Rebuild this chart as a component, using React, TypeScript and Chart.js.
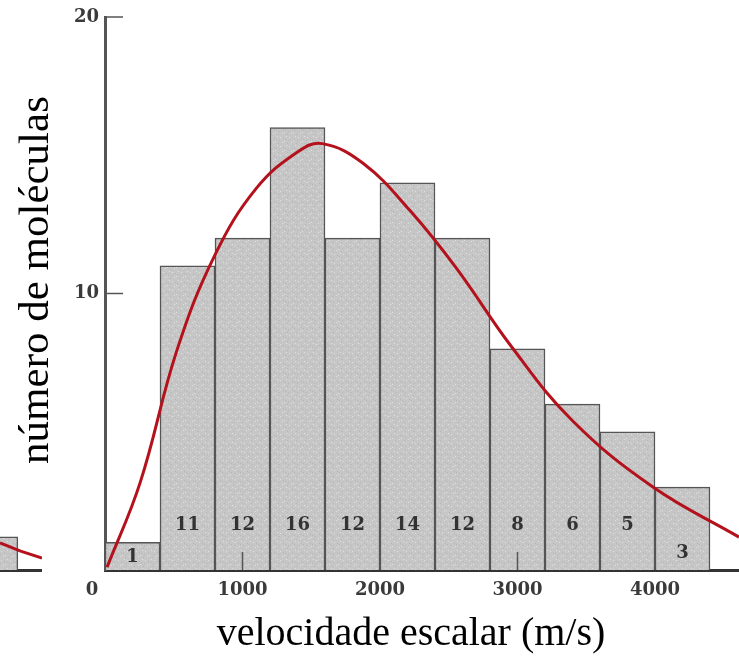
import React, { useEffect, useRef } from "react";
import { Chart, registerables } from "chart.js";

Chart.register(...registerables);

// ---- data ----
const binCenters = [200, 600, 1000, 1400, 1800, 2200, 2600, 3000, 3400, 3800, 4200];
const binCounts = [1, 11, 12, 16, 12, 14, 12, 8, 6, 5, 3];

const curveSpeeds = [15, 255, 524, 800, 1100, 1400, 1580, 1879, 2218, 2558, 2950, 3400, 3985, 4611];
const curveValues = [0.1, 3.15, 7.96, 11.4, 13.8, 15.12, 15.42, 14.7, 13.0, 10.9, 8.12, 5.4, 3.0, 1.19];

const xTickValues = [1000, 2000, 3000, 4000];
const yTickValues = [10, 20];

// fragment of the neighbouring chart, cut off at the left edge
const fragBinCenters = [4200];
const fragBinCounts = [1.2];
const fragCurveSpeeds = [4270, 4420, 4575];
const fragCurveValues = [0.98, 0.68, 0.43];

const xTitle = "velocidade escalar (m/s)";
const yTitle = "número de moléculas";

const TICK_FONT = { family: "'DejaVu Serif', serif", size: 18, weight: "bold" as const };
const TICK_COLOR = "#3a3a3a";
const BAR_BORDER = "#555555";
const CURVE_COLOR = "#b3121c";

function makePattern(): CanvasPattern | string {
  const c = document.createElement("canvas");
  c.width = 9;
  c.height = 9;
  const g = c.getContext("2d");
  if (!g) return "#c6c6c6";
  g.fillStyle = "#c6c6c6";
  g.fillRect(0, 0, 9, 9);
  g.fillStyle = "#e0e0e0";
  [[1, 2], [5, 6], [7, 1], [3, 7]].forEach(([px, py]) => g.fillRect(px, py, 1, 1));
  g.fillStyle = "#b6b6b6";
  [[4, 3], [0, 5], [8, 8], [6, 4]].forEach(([px, py]) => g.fillRect(px, py, 1, 1));
  return g.createPattern(c, "repeat") || "#c6c6c6";
}

const decorPlugin = {
  id: "decor",
  afterDatasetsDraw(chart: any) {
    const { ctx } = chart;
    const x = chart.scales.x;
    const y = chart.scales.y;
    ctx.save();
    // inward tick marks
    ctx.strokeStyle = "#555";
    ctx.lineWidth = 1.5;
    yTickValues.forEach((v) => {
      const py = y.getPixelForValue(v);
      ctx.beginPath();
      ctx.moveTo(x.left, py);
      ctx.lineTo(x.left + 18, py);
      ctx.stroke();
    });
    xTickValues.forEach((v) => {
      const px = x.getPixelForValue(v);
      ctx.beginPath();
      ctx.moveTo(px, y.bottom);
      ctx.lineTo(px, y.bottom - 18);
      ctx.stroke();
    });
    // bar count labels
    const meta = chart.getDatasetMeta(1);
    ctx.font = `bold 18px 'DejaVu Serif', serif`;
    ctx.fillStyle = "#333";
    ctx.textAlign = "center";
    ctx.textBaseline = "middle";
    binCounts.forEach((c, i) => {
      const el = meta.data[i];
      if (!el) return;
      const level = c <= 1 ? 0.45 : c <= 3 ? 0.62 : 1.6;
      ctx.fillText(String(c), el.x, y.getPixelForValue(level));
    });
    ctx.restore();
  },
  afterDraw(chart: any) {
    const { ctx } = chart;
    const x = chart.scales.x;
    ctx.save();
    // origin label
    ctx.font = `bold 18px 'DejaVu Serif', serif`;
    ctx.fillStyle = TICK_COLOR;
    ctx.textAlign = "center";
    ctx.textBaseline = "middle";
    ctx.fillText("0", x.getPixelForValue(0) - 13, x.top + 20);
    // axis titles
    ctx.fillStyle = "#000";
    ctx.font = `40px 'Liberation Serif', serif`;
    ctx.textBaseline = "alphabetic";
    ctx.fillText(xTitle, 411, 645);
    ctx.translate(48, 280);
    ctx.rotate(-Math.PI / 2);
    ctx.font = `43px 'Liberation Serif', serif`;
    ctx.fillText(yTitle, 0, 0);
    ctx.restore();
  },
};

export default function App() {
  const mainRef = useRef<HTMLCanvasElement | null>(null);
  const fragRef = useRef<HTMLCanvasElement | null>(null);

  useEffect(() => {
    if (!mainRef.current || !fragRef.current) return;
    const pattern = makePattern();

    const main = new Chart(mainRef.current, {
      type: "bar",
      data: {
        datasets: [
          {
            type: "line",
            data: curveSpeeds.map((v, i) => ({ x: v, y: curveValues[i] })),
            borderColor: CURVE_COLOR,
            borderWidth: 3,
            pointRadius: 0,
            fill: false,
            tension: 0.4,
            order: 0,
          } as any,
          {
            type: "bar",
            data: binCenters.map((v, i) => ({ x: v, y: binCounts[i] })),
            backgroundColor: pattern as any,
            borderColor: BAR_BORDER,
            borderWidth: 1.5,
            categoryPercentage: 1,
            barPercentage: 1,
            order: 1,
          } as any,
        ],
      },
      options: {
        responsive: false,
        animation: false,
        layout: { padding: { top: 17, left: 0, right: 0, bottom: 0 } },
        plugins: { legend: { display: false }, tooltip: { enabled: false } },
        scales: {
          x: {
            type: "linear",
            min: 0,
            max: 4611,
            offset: false,
            grid: { display: false, drawTicks: false },
            border: { display: true, color: "#333", width: 3 },
            ticks: {
              autoSkip: false,
              maxRotation: 0,
              padding: 10,
              font: TICK_FONT,
              color: TICK_COLOR,
              callback: (v: any) => String(v),
            },
            afterBuildTicks: (s: any) => {
              s.ticks = xTickValues.map((v) => ({ value: v }));
            },
            afterFit: (s: any) => {
              s.height = 101;
              s.paddingLeft = 0;
              s.paddingRight = 0;
            },
          },
          y: {
            min: 0,
            max: 20,
            grid: { display: false, drawTicks: false },
            border: { display: true, color: "#555", width: 3 },
            ticks: {
              padding: 6,
              font: TICK_FONT,
              color: TICK_COLOR,
              callback: (v: any) => String(v),
            },
            afterBuildTicks: (s: any) => {
              s.ticks = yTickValues.map((v) => ({ value: v }));
            },
            afterFit: (s: any) => {
              s.width = 105;
              s.paddingTop = 0;
              s.paddingBottom = 0;
            },
          },
        },
      } as any,
      plugins: [decorPlugin],
    });

    const frag = new Chart(fragRef.current, {
      type: "bar",
      data: {
        datasets: [
          {
            type: "line",
            data: fragCurveSpeeds.map((v, i) => ({ x: v, y: fragCurveValues[i] })),
            borderColor: CURVE_COLOR,
            borderWidth: 3,
            pointRadius: 0,
            fill: false,
            order: 0,
          } as any,
          {
            type: "bar",
            data: fragBinCenters.map((v, i) => ({ x: v, y: fragBinCounts[i] })),
            backgroundColor: pattern as any,
            borderColor: BAR_BORDER,
            borderWidth: 1.5,
            barThickness: 55,
            order: 1,
          } as any,
        ],
      },
      options: {
        responsive: false,
        animation: false,
        layout: { padding: { top: 17, left: 0, right: 0, bottom: 0 } },
        plugins: { legend: { display: false }, tooltip: { enabled: false } },
        scales: {
          x: {
            type: "linear",
            min: 4270,
            max: 4575,
            offset: false,
            grid: { display: false, drawTicks: false },
            border: { display: true, color: "#333", width: 3 },
            ticks: { display: false },
            afterFit: (s: any) => {
              s.height = 101;
            },
          },
          y: { min: 0, max: 20, display: false },
        },
      } as any,
    });

    return () => {
      main.destroy();
      frag.destroy();
    };
  }, []);

  return (
    <div style={{ position: "fixed", left: 0, top: 0, width: 739, height: 671, background: "#fff" }}>
      <canvas ref={mainRef} width={739} height={671} style={{ position: "absolute", left: 0, top: 0, display: "block" }} />
      <canvas ref={fragRef} width={42} height={671} style={{ position: "absolute", left: 0, top: 0, display: "block" }} />
    </div>
  );
}
